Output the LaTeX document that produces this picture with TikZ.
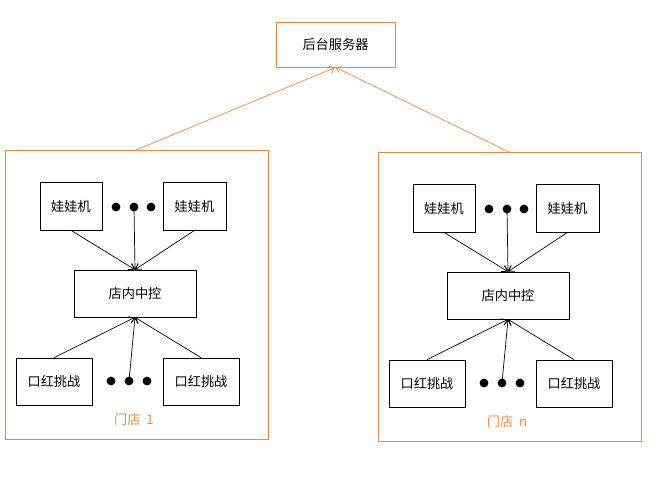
\documentclass[tikz,border=0pt]{standalone}
\usepackage{fontspec}
\setmainfont{Noto Sans CJK SC}
\usetikzlibrary{arrows.meta}
\definecolor{storeorange}{RGB}{230,140,70}
\begin{document}
\begin{tikzpicture}
  [ x=0.02cm, y=-0.02cm
  , box/.style={rectangle, draw, thin, inner sep=0pt, font=\fontsize{7.5pt}{9pt}\selectfont}
  , store/.style={rectangle, draw=storeorange, thin}
  , dot/.style={circle, fill, inner sep=0pt, minimum size=5pt}
  , >={Straight Barb[length=3pt,width=4pt]}]
  \useasboundingbox (0,0) rectangle (653,478);
  \node (server) at (335.5,44.5) [box, draw=storeorange, minimum width=119*0.02cm, minimum height=45*0.02cm] {后台服务器};
  \foreach \s/\dx/\dy/\lab in {1/0/0/1, n/373/2/n} {
    \begin{scope}[shift={(\dx,\dy)}]
      \draw [store] (5,150) rectangle (268,439);
      \coordinate (top\s) at (136,150);
      \node (lab\s) at (134,419) [text=storeorange, font=\fontsize{7.5pt}{9pt}\selectfont] {门店\ \ \lab};
      \node (wa\s a) at (71,206) [box, minimum width=62*0.02cm, minimum height=48*0.02cm] {娃娃机};
      \node (wa\s b) at (194.5,206) [box, minimum width=63*0.02cm, minimum height=48*0.02cm] {娃娃机};
      \node (ctl\s) at (135,293.5) [box, minimum width=122*0.02cm, minimum height=47*0.02cm] {店内中控};
      \node (kh\s a) at (54,381.5) [box, minimum width=76*0.02cm, minimum height=47*0.02cm] {口红挑战};
      \node (kh\s b) at (201,381.5) [box, minimum width=76*0.02cm, minimum height=47*0.02cm] {口红挑战};
      \node (d\s a) at (116,207) [dot] {};
      \node (d\s b) at (134,207) [dot] {};
      \node (d\s c) at (151,207) [dot] {};
      \node (e\s a) at (111,381) [dot] {};
      \node (e\s b) at (129,381) [dot] {};
      \node (e\s c) at (147,381) [dot] {};
      \draw [->] (wa\s a.south) -- (ctl\s.north);
      \draw [->] (wa\s b.south) -- (ctl\s.north);
      \draw [->] (d\s b.center) -- (ctl\s.north);
      \draw [->] (kh\s a.north) -- (ctl\s.south);
      \draw [->] (kh\s b.north) -- (ctl\s.south);
      \draw [->] (e\s b.center) -- (ctl\s.south);
    \end{scope}
    \draw [->, storeorange] (top\s) -- (server.south);
  }
\end{tikzpicture}
\end{document}
